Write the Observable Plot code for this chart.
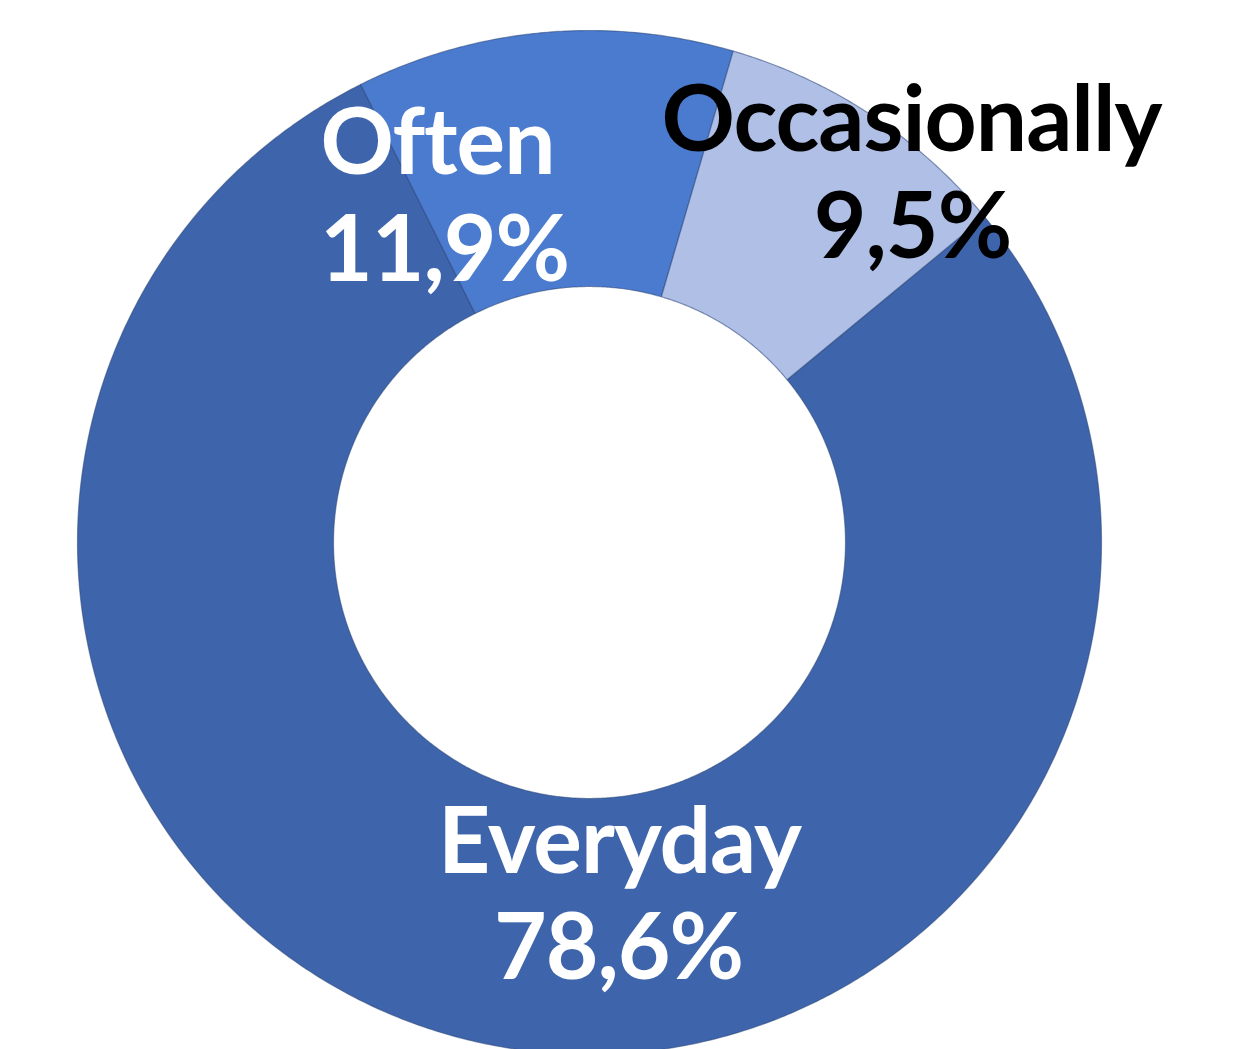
<!DOCTYPE html>
<html><head><meta charset="utf-8">
<script src="https://cdn.jsdelivr.net/npm/d3@7"></script>
<script src="https://cdn.jsdelivr.net/npm/@observablehq/plot@0.6"></script>
<style>html,body{margin:0;padding:0;background:#fff;} #chart{width:1257px;height:1049px;overflow:hidden}
#chart text{letter-spacing:-1px}</style>
</head><body><div id="chart"></div>
<script>
// ---- data ----
const categories = ["Everyday", "Often", "Occasionally"];
const values = [78.6, 11.9, 9.5];
const valueLabels = ["78,6%", "11,9%", "9,5%"];
const colors = ["#3E65AC", "#4A7BCF", "#AFBFE6"];
const labelColors = ["#ffffff", "#ffffff", "#000000"];

// ---- layout ----
const W = 1257, H = 1049, CX = 589, CY = 542, R_OUT = 512, R_IN = 256, START_DEG = 50.5;
const nameOffset = [[30, -330], [-152, 369], [322, 392]];
const valueOffset = [[29, -436], [-145, 262], [323, 285]];
const FONT = "Lato, 'Open Sans', sans-serif";
const FONT_SIZE = 91;

const total = d3.sum(values);
const cum = d3.cumsum(values);
const slices = categories.map((c, i) => ({
  c,
  a0: START_DEG + (cum[i] - values[i]) / total * 360,
  a1: START_DEG + cum[i] / total * 360
}));
function ringPoints(s) {
  const n = Math.max(2, Math.ceil((s.a1 - s.a0) / 0.4));
  const pts = [];
  const ang = k => (s.a0 + (s.a1 - s.a0) * k / n) * Math.PI / 180;
  for (let k = 0; k <= n; k++) pts.push({c: s.c, x: R_OUT * Math.sin(ang(k)), y: R_OUT * Math.cos(ang(k))});
  for (let k = n; k >= 0; k--) pts.push({c: s.c, x: R_IN * Math.sin(ang(k)), y: R_IN * Math.cos(ang(k))});
  pts.push({...pts[0]});
  return pts;
}
const labels = categories.map((c, i) => ({
  c, name: c, value: valueLabels[i], color: labelColors[i],
  nx: nameOffset[i][0], ny: nameOffset[i][1], vx: valueOffset[i][0], vy: valueOffset[i][1]
}));

const marks = [];
slices.forEach((s, i) => {
  marks.push(Plot.line(ringPoints(s), {
    x: "x", y: "y", fill: colors[i], stroke: "#2a4679", strokeOpacity: 0.55, strokeWidth: 1.2, curve: "linear"
  }));
});
for (const col of ["#ffffff", "#000000"]) {
  const sub = labels.filter(d => d.color === col);
  marks.push(Plot.text(sub, {x: "nx", y: "ny", text: "name", fill: col, fontSize: FONT_SIZE, fontWeight: 700,
    fontFamily: FONT, textAnchor: "middle", lineAnchor: "bottom"}));
  marks.push(Plot.text(sub, {x: "vx", y: "vy", text: "value", fill: col, fontSize: FONT_SIZE, fontWeight: 700,
    fontFamily: FONT, textAnchor: "middle", lineAnchor: "bottom"}));
}

const chart = Plot.plot({
  width: W, height: H,
  margin: 0,
  x: {domain: [-CX, W - CX], axis: null},
  y: {domain: [-(H - CY), CY], axis: null},
  style: {background: "#fff", overflow: "visible"},
  marks
});
document.getElementById("chart").appendChild(chart);
</script>
</body></html>
